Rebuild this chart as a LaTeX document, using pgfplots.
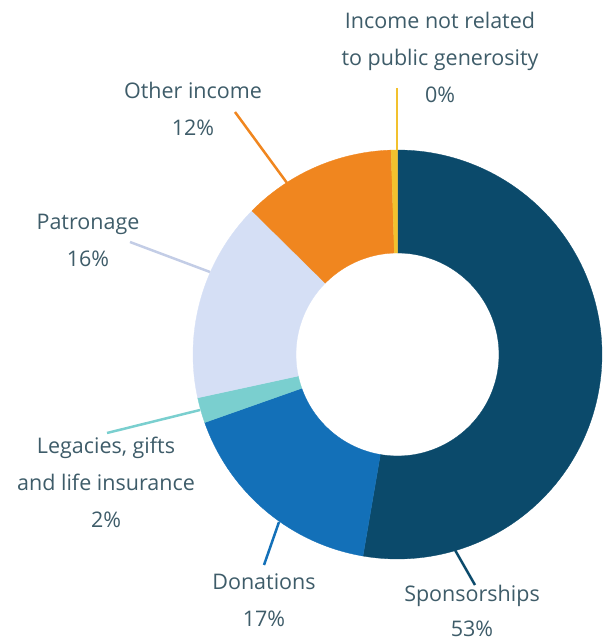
\documentclass[border=0pt]{standalone}
\usepackage{pgfplots}
\pgfplotsset{compat=1.18}
\usepackage{fontspec}
\setmainfont{Open Sans}
\definecolor{cSpon}{HTML}{0B4A6B}
\definecolor{cDon}{HTML}{1370B8}
\definecolor{cLeg}{HTML}{7ACFCF}
\definecolor{cPat}{HTML}{D5DFF5}
\definecolor{cPatL}{HTML}{C3CDE6}
\definecolor{cOth}{HTML}{F0861F}
\definecolor{cNot}{HTML}{F2C12E}
\definecolor{ctext}{HTML}{3E5C69}
\tikzset{lbl/.style={text=ctext, align=center, font=\fontsize{21.5}{37}\selectfont}}
% shares in percent (clockwise from the top)
\def\vSpon{52.7}
\def\vDon{16.9}
\def\vLeg{2.0}
\def\vPat{15.8}
\def\vOth{12.1}
\def\vNot{0.5}
\pgfmathsetmacro\aA{90}
\pgfmathsetmacro\aB{\aA-3.6*\vSpon}
\pgfmathsetmacro\aC{\aB-3.6*\vDon}
\pgfmathsetmacro\aD{\aC-3.6*\vLeg}
\pgfmathsetmacro\aE{\aD-3.6*\vPat}
\pgfmathsetmacro\aF{\aE-3.6*\vOth}
\pgfmathsetmacro\aG{\aF-3.6*\vNot}
\def\Rout{204.5}
\def\Rin{101.5}
\newcommand{\ring}[3]{%
  \addplot[fill=#3, draw=#3, line width=0.3pt, domain=0:2, samples=241]
  ({ifthenelse(x<=1,\Rout,\Rin)*cos(ifthenelse(x<=1,(#1)+((#2)-(#1))*min(x/0.99,1),(#2)-((#2)-(#1))*max((x-1.01)/0.99,0)))},
   {ifthenelse(x<=1,\Rout,\Rin)*sin(ifthenelse(x<=1,(#1)+((#2)-(#1))*min(x/0.99,1),(#2)-((#2)-(#1))*max((x-1.01)/0.99,0)))}) -- cycle;
}
\begin{document}
\begin{tikzpicture}
\begin{axis}[
  hide axis, scale only axis,
  width=609pt, height=644pt,
  xmin=-397.5, xmax=211.5, ymin=-289.5, ymax=354.5,
  clip=false,
]
\addplot[draw=none] coordinates {(-397.5,-289.5) (211.5,354.5)};
\ring{\aA}{\aB}{cSpon}
\ring{\aB}{\aC}{cDon}
\ring{\aC}{\aD}{cLeg}
\ring{\aD}{\aE}{cPat}
\ring{\aE}{\aF}{cOth}
\ring{\aF}{\aG}{cNot}
% leader lines
\draw[cOth, line width=2.5pt] (axis cs:-162.5,242.5) -- (axis cs:-110.5,171.5);
\draw[cNot, line width=2pt] (axis cs:-0.5,266.5) -- (axis cs:-0.5,204.5);
\draw[cPatL, line width=2.5pt] (axis cs:-267.5,112.5) -- (axis cs:-187.5,82.5);
\draw[cLeg, line width=2.5pt] (axis cs:-290.5,-78.5) -- (axis cs:-197.5,-55.5);
\draw[cDon, line width=2.5pt] (axis cs:-118.5,-167.5) -- (axis cs:-133.5,-210.5);
\draw[cSpon, line width=2.5pt] (axis cs:57.5,-195.5) -- (axis cs:77.5,-230.5);
% labels
\node[lbl] at (axis cs:42.5,297.5) {Income not related\\to public generosity\\0\%};
\node[lbl] at (axis cs:-204.5,245.5) {Other income\\12\%};
\node[lbl] at (axis cs:-309.5,114.5) {Patronage\\16\%};
\node[lbl] at (axis cs:-291.5,-127.5) {Legacies, gifts\\and life insurance\\2\%};
\node[lbl] at (axis cs:-133.5,-245.5) {Donations\\17\%};
\node[lbl, font=\fontsize{21.5}{35}\selectfont] at (axis cs:74.5,-256.5) {Sponsorships\\53\%};
\end{axis}
\end{tikzpicture}
\end{document}
